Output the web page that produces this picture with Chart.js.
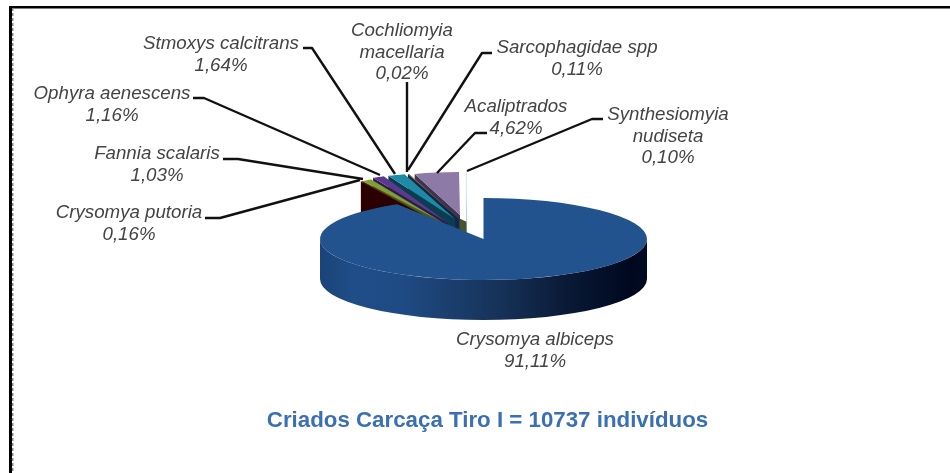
<!DOCTYPE html>
<html><head><meta charset="utf-8">
<style>html,body{margin:0;padding:0;background:#fff}canvas{display:block;filter:blur(.55px)}</style>
<script src="https://cdn.jsdelivr.net/npm/chart.js@4"></script></head>
<body><div style="width:950px;height:473px"><canvas id="c" width="950" height="473"></canvas></div>
<script>
const species = ['Crysomya albiceps','Crysomya putoria','Fannia scalaris','Ophyra aenescens','Stmoxys calcitrans','Cochliomyia macellaria','Sarcophagidae spp','Acaliptrados','Synthesiomyia nudiseta'];
const percentages = [91.11,0.16,1.03,1.16,1.64,0.02,0.11,4.62,0.10];
const percentLabels = ['91,11%','0,16%','1,03%','1,16%','1,64%','0,02%','0,11%','4,62%','0,10%'];
const chartTitle = 'Criados Carcaça Tiro I = 10737 indivíduos';

const sliceColors = ['#23538f','#5a0d0d','#7f9f2e','#5b3a8e','#1f8aa6','#2a4a80','#c0702a','#8d7aa6','#d4edf4'];
const wallColors  = ['#10284a','#2a0000','#4a5a20','#2e1c4c','#0c3c50','#10284a','#5a3010','#3c3450','#7ab0c0'];
// [centre x, centre y, radius x, radius y] of each exploded slice on the page
const sliceFrames = [[483.5,239,163.5,41],[440,224,150,50],[442,222,153,48],[448,223,162,51],[455,219,168,47],[459,219,170,47],[459,219,170,47],[460,215,155,43],[467,231,165,60]];
const wallDepth = 40;
const labelBoxes = [ // centre x, first line y, leader polyline
 {x:535,y:340,lines:[0],leader:null},
 {x:129,y:213,lines:[1],leader:[[205,218],[220,218],[360,180]]},
 {x:157,y:154,lines:[2],leader:[[223,159],[238,159],[363,179]]},
 {x:112,y:94,lines:[3],leader:[[193,98],[204,98],[380,175]]},
 {x:221,y:44,lines:[4],leader:[[303,48],[312,48],[395,174]]},
 {x:402,y:31,lines:['Cochliomyia','macellaria'],leader:[[407,82],[407,172]]},
 {x:577,y:48,lines:[6],leader:[[492,53],[482,53],[408,170]]},
 {x:516,y:107,lines:[7],leader:[[487,133],[475,133],[437,173]]},
 {x:668,y:115,lines:['Synthesiomyia','nudiseta'],leader:[[603,119],[592,119],[467,171]]}
];

function drawSlice(ctx, arc, i, chartCentre, R){
  const [ax,ay,rx,ry] = sliceFrames[i];
  const pt = a => [ax+rx*Math.cos(a), ay+ry*Math.sin(a)];
  ctx.fillStyle = wallColors[i];
  if(i>0){
    const p = pt(arc.startAngle);
    ctx.beginPath();
    ctx.moveTo(p[0],p[1]); ctx.lineTo(ax,ay); ctx.lineTo(ax,ay+wallDepth); ctx.lineTo(p[0],p[1]+wallDepth);
    ctx.closePath(); ctx.fill();
  } else {
    const g = ctx.createLinearGradient(ax-rx,0,ax+rx,0);
    [[0,'#1a4478'],[.1,'#204d88'],[.25,'#1f4b84'],[.55,'#163258'],[.75,'#0a1a36'],[.95,'#000820'],[1,'#000a20']].forEach(s=>g.addColorStop(s[0],s[1]));
    ctx.fillStyle = g;
    ctx.beginPath();
    ctx.ellipse(ax,ay,rx,ry,0,0,Math.PI);
    ctx.lineTo(ax-rx,ay+wallDepth);
    ctx.ellipse(ax,ay+wallDepth,rx,ry,0,Math.PI,0,true);
    ctx.closePath(); ctx.fill();
  }
  ctx.save();
  ctx.translate(ax,ay); ctx.scale(rx/R,ry/R); ctx.translate(-chartCentre.x,-chartCentre.y);
  arc.draw(ctx);
  ctx.restore();
}

const pie3d = {
  id:'pie3d',
  beforeDatasetDraw(chart){
    const ctx = chart.ctx, arcs = chart.getDatasetMeta(0).data;
    const centre = {x:arcs[0].x,y:arcs[0].y}, R = arcs[0].outerRadius;
    // shaded inner corner behind the small slices
    ctx.fillStyle='#46552a';
    ctx.beginPath(); ctx.moveTo(450,214); ctx.lineTo(467,222); ctx.lineTo(467,236); ctx.lineTo(450,236); ctx.closePath(); ctx.fill();
    for(let i=arcs.length-1;i>=0;i--) drawSlice(ctx,arcs[i],i,centre,R);
    return false;
  },
  afterDraw(chart){
    const ctx = chart.ctx;
    ctx.save();
    ctx.fillStyle='#000';
    ctx.fillRect(9,6,941,2.5);
    ctx.fillRect(9,6,3,467);
    ctx.fillStyle='#8a8a8a';
    for(let y=8;y<473;y+=5) ctx.fillRect(12,y,1.5,3);
    ctx.strokeStyle='#111'; ctx.lineWidth=2.4; ctx.lineJoin='round';
    ctx.font='italic 18.7px "Liberation Sans", Arial, sans-serif';
    ctx.textAlign='center'; ctx.textBaseline='middle';
    labelBoxes.forEach((b,i)=>{
      if(b.leader){
        ctx.beginPath();
        b.leader.forEach((p,k)=>k?ctx.lineTo(p[0],p[1]):ctx.moveTo(p[0],p[1]));
        ctx.stroke();
      }
      const names = typeof b.lines[0]==='number' ? [species[i]] : b.lines;
      const text = names.concat([percentLabels[i]]);
      ctx.fillStyle='#444';
      text.forEach((t,k)=>ctx.fillText(t,b.x,b.y+k*21.5));
    });
    ctx.restore();
  }
};

new Chart(document.getElementById('c'),{
  type:'pie',
  data:{labels:species,datasets:[{data:percentages,backgroundColor:sliceColors,borderWidth:0,hoverOffset:0}]},
  plugins:[pie3d],
  options:{
    responsive:false,animation:false,
    layout:{padding:{left:25,top:20,bottom:0,right:0}},
    plugins:{
      legend:{display:false},tooltip:{enabled:false},
      title:{display:true,text:chartTitle,position:'bottom',color:'#3a6fb5',
        font:{family:'"Liberation Sans", Arial, sans-serif',size:22.3,weight:'bold'},
        padding:{top:10,bottom:39}}
    }
  }
});
</script></body></html>
